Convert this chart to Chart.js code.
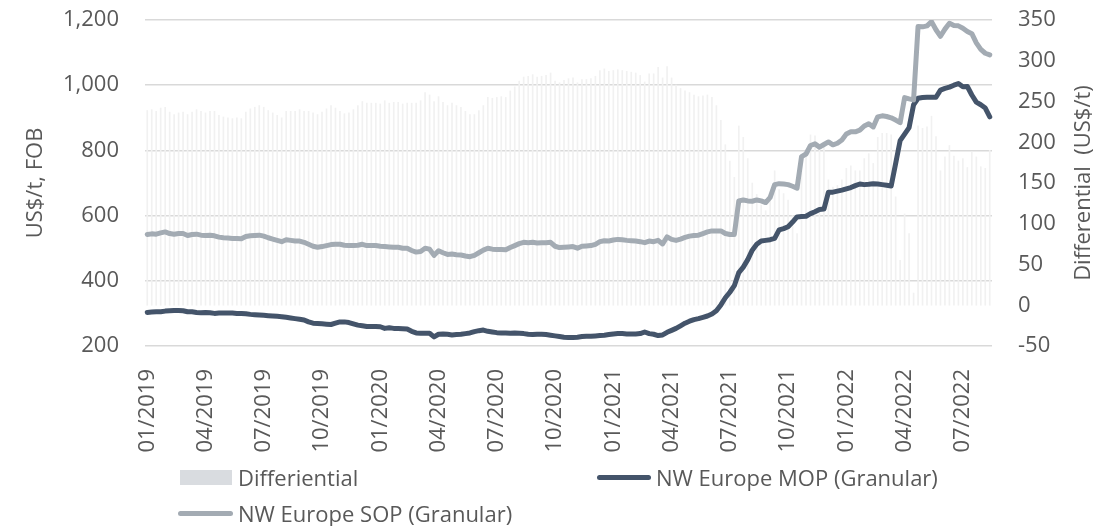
<!DOCTYPE html>
<html>
<head>
<meta charset="utf-8">
<script src="https://cdn.jsdelivr.net/npm/chart.js@4.4.1/dist/chart.umd.min.js"></script>
<style>
  html, body { margin: 0; padding: 0; background: #fff; }
  #wrap { position: relative; width: 1120px; height: 526px; }
  .lg { position: absolute; display: flex; align-items: center; height: 26px;
        font: 22px "Open Sans", sans-serif; color: #595959; white-space: nowrap; }
  .box { display: inline-block; width: 52px; height: 15px; margin-right: 6px; }
  .ln  { display: inline-block; height: 5px; border-radius: 3px; margin-right: 5px; }
</style>
</head>
<body>
<div id="wrap">
  <canvas id="chart" width="1120" height="526"></canvas>
  <div class="lg" style="left:180px;top:464px"><span class="box" style="background:#d9dce0"></span>Differiential</div>
  <div class="lg" style="left:597px;top:464px"><span class="ln" style="width:54px;background:#44546a"></span>NW Europe MOP (Granular)</div>
  <div class="lg" style="left:178px;top:500px"><span class="ln" style="width:55px;background:#a3abb3"></span>NW Europe SOP (Granular)</div>
</div>
<script>
// weekly prices, Jan 2019 - Aug 2022 (US$/t FOB)
const quarterLabels = ['01/2019', '04/2019', '07/2019', '10/2019', '01/2020', '04/2020', '07/2020', '10/2020',
  '01/2021', '04/2021', '07/2021', '10/2021', '01/2022', '04/2022', '07/2022'];

const mop = [
  303, 304, 305, 305, 307, 308, 309, 309, 308, 305,
  305, 303, 302, 303, 302, 300, 301, 301, 301, 301,
  300, 300, 299, 297, 296, 295, 294, 293, 292, 291,
  290, 288, 286, 284, 282, 280, 274, 270, 269, 268,
  267, 266, 270, 274, 274, 272, 268, 264, 262, 260,
  260, 260, 259, 254, 256, 254, 254, 253, 252, 245,
  240, 239, 239, 239, 228, 236, 237, 236, 234, 235,
  236, 238, 240, 244, 247, 249, 245, 243, 241, 240,
  240, 239, 240, 239, 238, 236, 235, 236, 236, 235,
  233, 231, 229, 227, 226, 226, 227, 229, 230, 230,
  231, 232, 233, 235, 237, 238, 238, 237, 237, 237,
  238, 243, 238, 236, 232, 234, 242, 248, 254, 262,
  270, 276, 281, 284, 288, 292, 298, 308, 326, 348,
  365, 385, 425, 442, 465, 494, 512, 522, 524, 526,
  530, 556, 560, 566, 580, 596, 597, 598, 606, 612,
  619, 620, 672, 672, 675, 678, 682, 686, 692, 697,
  695, 696, 698, 697, 695, 693, 691, 760, 830, 850,
  870, 940, 960, 962, 963, 963, 963, 985, 990, 994,
  1000, 1005, 995, 996, 970, 948, 940, 930, 903
];

const sop = [
  542, 544, 543, 547, 550, 545, 543, 545, 545, 539,
  542, 543, 540, 539, 540, 538, 534, 532, 531, 530,
  530, 529, 536, 538, 539, 540, 537, 532, 528, 524,
  520, 526, 524, 522, 522, 518, 512, 506, 503, 505,
  508, 511, 512, 512, 509, 508, 508, 509, 512, 508,
  508, 508, 506, 505, 504, 503, 503, 500, 500, 493,
  488, 490, 500, 497, 478, 492, 486, 481, 482, 480,
  479, 476, 474, 478, 486, 494, 500, 497, 496, 496,
  495, 502, 508, 514, 518, 517, 518, 516, 517, 517,
  518, 506, 502, 503, 504, 505, 500, 506, 507, 508,
  512, 520, 523, 522, 525, 527, 526, 524, 523, 522,
  520, 517, 522, 520, 524, 513, 535, 527, 524, 528,
  533, 537, 539, 540, 545, 550, 553, 553, 553, 545,
  542, 542, 645, 648, 645, 644, 648, 645, 640, 656,
  695, 698, 697, 695, 690, 684, 781, 789, 815, 820,
  810, 818, 826, 817, 822, 832, 850, 857, 857, 862,
  875, 882, 872, 903, 906, 904, 900, 893, 885, 962,
  958, 955, 1180, 1179, 1182, 1195, 1170, 1150, 1172, 1190,
  1183, 1182, 1175, 1165, 1158, 1130, 1110, 1098, 1093
];

// SOP - MOP, right axis
const diff = [
  239, 240, 238, 242, 243, 237, 234, 236, 237, 234,
  237, 240, 238, 236, 238, 238, 233, 231, 230, 229,
  230, 229, 237, 241, 243, 245, 243, 239, 236, 233,
  230, 238, 238, 238, 240, 238, 238, 236, 234, 237,
  241, 245, 242, 238, 235, 236, 240, 245, 250, 248,
  248, 248, 247, 251, 248, 249, 249, 247, 248, 248,
  248, 251, 261, 258, 250, 256, 249, 245, 248, 245,
  243, 238, 234, 234, 239, 245, 255, 254, 255, 256,
  255, 263, 268, 275, 280, 281, 283, 280, 281, 282,
  285, 275, 273, 276, 278, 279, 273, 277, 277, 278,
  281, 288, 290, 287, 288, 289, 288, 287, 286, 285,
  282, 274, 284, 284, 292, 279, 293, 279, 270, 266,
  263, 261, 258, 256, 257, 258, 255, 245, 227, 197,
  177, 157, 220, 206, 180, 150, 136, 123, 116, 130,
  165, 142, 137, 129, 110, 88, 184, 191, 209, 208,
  191, 198, 154, 145, 147, 154, 168, 171, 165, 165,
  180, 186, 174, 206, 211, 211, 209, 133, 55, 112,
  88, 15, 220, 217, 219, 232, 207, 165, 182, 196,
  183, 177, 180, 169, 188, 182, 170, 168, 190
];

// one category per week, quarter label every 13th week
const weeks = mop.map((_, i) => i % 13 === 0 ? quarterLabels[i / 13] : '');

const TXT = '#595959';
Chart.defaults.font.family = '"Open Sans", sans-serif';
Chart.defaults.font.size = 22;
Chart.defaults.color = TXT;

// right axis title reads bottom-to-top like the left one
const rightTitle = {
  id: 'rightTitle',
  afterDraw(chart) {
    const { ctx, chartArea } = chart;
    ctx.save();
    ctx.translate(1084, (chartArea.top + chartArea.bottom) / 2);
    ctx.rotate(-Math.PI / 2);
    ctx.font = '22px "Open Sans", sans-serif';
    ctx.fillStyle = TXT;
    ctx.textAlign = 'center';
    ctx.textBaseline = 'middle';
    ctx.fillText('Differential  (US$/t)', 0, 0);
    ctx.restore();
  }
};

// fixed axis sizes so the plot sits where the original one does
const fixSize = (w, h) => s => {
  if (w) s.width = w;
  if (h) s.height = h;
  s.paddingTop = s.paddingBottom = s.paddingLeft = s.paddingRight = 0;
};

new Chart(document.getElementById('chart'), {
  data: {
    labels: weeks,
    datasets: [
      { type: 'line', label: 'NW Europe SOP (Granular)', data: sop, yAxisID: 'y',
        borderColor: '#a3abb3', borderWidth: 5, pointRadius: 0, tension: 0,
        borderJoinStyle: 'round', borderCapStyle: 'round', order: 1 },
      { type: 'line', label: 'NW Europe MOP (Granular)', data: mop, yAxisID: 'y',
        borderColor: '#44546a', borderWidth: 5, pointRadius: 0, tension: 0,
        borderJoinStyle: 'round', borderCapStyle: 'round', order: 2 },
      { type: 'bar', label: 'Differiential', data: diff, yAxisID: 'y1',
        backgroundColor: '#f1f1f1', barThickness: 1, order: 3 }
    ]
  },
  options: {
    responsive: false,
    animation: false,
    layout: { padding: { top: 20 } },
    plugins: { legend: { display: false }, tooltip: { enabled: false } },
    scales: {
      x: {
        grid: { display: false },
        border: { display: false },
        ticks: { autoSkip: false, minRotation: 90, maxRotation: 90, padding: 15 },
        afterFit: fixSize(0, 180)
      },
      y: {
        position: 'left', min: 200, max: 1200,
        ticks: { stepSize: 200, padding: 26, callback: v => v.toLocaleString('en-US') },
        grid: { color: '#d9d9d9', lineWidth: 1.5, drawTicks: false },
        border: { display: false },
        title: { display: true, text: 'US$/t, FOB', padding: { top: 23 } },
        afterFit: fixSize(145, 0)
      },
      y1: {
        position: 'right', min: -50, max: 350,
        ticks: { stepSize: 50, padding: 26 },
        grid: { display: false, drawTicks: false },
        border: { display: false },
        afterFit: fixSize(128, 0)
      }
    }
  },
  plugins: [rightTitle]
});
</script>
</body>
</html>
